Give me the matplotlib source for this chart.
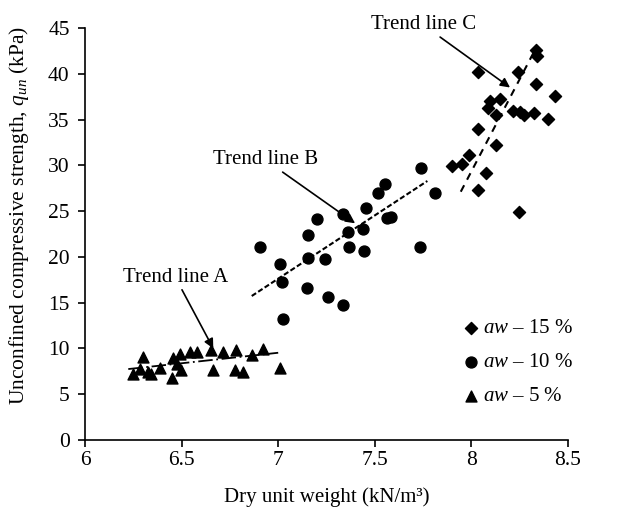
import matplotlib.pyplot as plt

plt.rcParams['font.family'] = 'Liberation Serif'
plt.rcParams['mathtext.fontset'] = 'custom'
plt.rcParams['mathtext.rm'] = 'Liberation Serif'
plt.rcParams['mathtext.it'] = 'Liberation Serif:italic'

# aw - 5 %
x_5 = [6.247, 6.284, 6.298, 6.328, 6.34, 6.388, 6.449, 6.454, 6.475, 6.497, 6.492,
       6.543, 6.578, 6.65, 6.664, 6.716, 6.776, 6.781, 6.819, 6.863, 6.923, 7.009]
y_5 = [7.17, 7.71, 9.04, 7.43, 7.17, 7.9, 6.81, 8.99, 8.3, 7.65, 9.36,
       9.58, 9.58, 9.83, 7.65, 9.64, 7.65, 9.83, 7.43, 9.28, 9.94, 7.83]

# aw - 10 %
x_10 = [6.906, 7.009, 7.018, 7.023, 7.156, 7.156, 7.202, 7.151, 7.242, 7.259, 7.337, 7.337,
        7.363, 7.368, 7.437, 7.444, 7.454, 7.518, 7.553, 7.562, 7.582, 7.734, 7.812, 7.739]
y_10 = [21.04, 19.19, 17.29, 13.2, 22.39, 19.85, 24.1, 16.57, 19.74, 15.65, 14.74, 24.65,
        22.72, 21.05, 23.08, 20.68, 25.31, 26.94, 27.93, 24.21, 24.39, 21.05, 26.94, 29.74]

# aw - 15 %
x_15 = [8.334, 8.338, 8.036, 8.243, 8.334, 8.433, 8.096, 8.148, 8.084, 8.127, 8.217, 8.252,
        8.272, 8.324, 8.398, 8.036, 8.127, 7.989, 7.95, 7.898, 8.076, 8.036, 8.246]
y_15 = [42.6, 41.94, 40.22, 40.22, 38.88, 37.6, 37.06, 37.21, 36.23, 35.5, 35.97, 35.86,
        35.5, 35.75, 35.03, 33.93, 32.22, 31.13, 30.11, 29.93, 29.13, 27.3, 24.93]

# trend line end points
trend_a_x = [6.224, 7.0]
trend_a_y = [7.75, 9.53]
trend_b_x = [6.863, 7.772]
trend_b_y = [15.73, 28.29]
trend_c_x = [7.945, 8.338]
trend_c_y = [27.12, 42.96]

fig = plt.figure(figsize=(6.33, 5.07), dpi=100)
ax = fig.add_axes([0.1343, 0.1321, 0.763, 0.8127])

ax.scatter(x_15, y_15, marker='D', s=38, color='black', label=r'$\mathit{aw}$ – 15 %', zorder=3)
ax.scatter(x_10, y_10, marker='o', s=62, color='black', label=r'$\mathit{aw}$ – 10 %', zorder=3)
ax.scatter(x_5, y_5, marker='^', s=62, color='black', label=r'$\mathit{aw}$ – 5 %', zorder=3)

ax.plot(trend_a_x, trend_a_y, color='black', lw=1.3, linestyle=(0, (8, 2, 1, 2)))
ax.plot(trend_b_x, trend_b_y, color='black', lw=1.5, linestyle=(0, (2.5, 1.2)))
ax.plot(trend_c_x, trend_c_y, color='black', lw=1.5, linestyle=(0, (3.5, 3)))

arrow = dict(arrowstyle='-|>', color='black', lw=1.2, mutation_scale=14, shrinkA=0, shrinkB=0)
ax.annotate('Trend line A', xy=(6.664, 10.0), xytext=(6.468, 17.75), ha='center', va='center',
            fontsize=15, arrowprops=arrow, annotation_clip=False)
ax.annotate('Trend line B', xy=(7.398, 23.67), xytext=(6.933, 30.6), ha='center', va='center',
            fontsize=15, arrowprops=arrow)
ax.annotate('Trend line C', xy=(8.2, 38.5), xytext=(7.75, 45.35), ha='center', va='center',
            fontsize=15, arrowprops=arrow, annotation_clip=False)

ax.set_xlim(6, 8.5)
ax.set_ylim(0, 45)
ax.set_xticks([6, 6.5, 7, 7.5, 8, 8.5])
ax.set_xticklabels(['6', '6.5', '7', '7.5', '8', '8.5'])
ax.set_yticks(range(0, 46, 5))
ax.tick_params(labelsize=15.5, direction='out', length=5, width=1.2)
ax.tick_params(axis='y', pad=6)
ax.tick_params(axis='x', pad=3)
ax.spines['top'].set_visible(False)
ax.spines['right'].set_visible(False)
ax.spines['left'].set_linewidth(1.2)
ax.spines['bottom'].set_linewidth(1.2)

ax.set_xlabel('Dry unit weight (kN/m³)', fontsize=15, labelpad=12)
ax.set_ylabel(r'Unconfined compressive strength, $q_{un}$ (kPa)', fontsize=15.5)
ax.yaxis.set_label_coords(-0.112, 0.545)

ax.legend(loc='upper left', bbox_to_anchor=(0.76, 0.315), frameon=False, fontsize=15,
          handletextpad=0.1, labelspacing=0.7, borderaxespad=0, handlelength=1.0)

fig.savefig('out.png', dpi=100)
